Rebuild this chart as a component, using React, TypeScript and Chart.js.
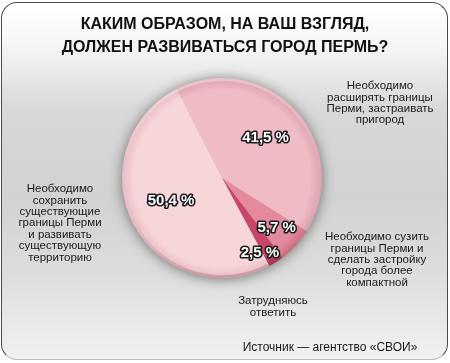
import React, { useEffect, useRef } from "react";
import { Chart, registerables } from "chart.js";

Chart.register(...registerables);

// ---- data ----
const titleLines = ["КАКИМ ОБРАЗОМ, НА ВАШ ВЗГЛЯД,", "ДОЛЖЕН РАЗВИВАТЬСЯ ГОРОД ПЕРМЬ?"];
const categories = [
  "Необходимо расширять границы Перми, застраивать пригород",
  "Необходимо сузить границы Перми и сделать застройку города более компактной",
  "Затрудняюсь ответить",
  "Необходимо сохранить существующие границы Перми и развивать существующую территорию",
];
const categoryLines = [
  ["Необходимо", "расширять границы", "Перми, застраивать", "пригород"],
  ["Необходимо сузить", "границы Перми и", "сделать застройку", "города более", "компактной"],
  ["Затрудняюсь", "ответить"],
  ["Необходимо", "сохранить", "существующие", "границы Перми", "и развивать", "существующую", "территорию"],
];
const values = [41.5, 5.7, 2.5, 50.4];
const valueLabels = ["41,5 %", "5,7 %", "2,5 %", "50,4 %"];
const sourceText = "Источник — агентство «СВОИ»";

// ---- styles / layout ----
const sliceColors = ["#efbbc5", "#e58a9c", "#c8466a", "#f7d6da"];
const sliceRim = ["#dca1ad", "#d17084", "#a93252", "#e8bbc2"];
const calloutAnchors = [
  { x: 380, y: 86 },
  { x: 377, y: 237 },
  { x: 273, y: 301 },
  { x: 60, y: 189 },
];
const valueLabelRadius = [0.59, 0.74, 0.84, 0.56];
const valueLabelAngleShift = [0, 0, 6, 3];

const FONT = "'Liberation Sans', Arial, sans-serif";

const overlayPlugin = {
  id: "overlay",
  beforeDatasetsDraw(chart: any) {
    const meta = chart.getDatasetMeta(0);
    const arc = meta.data[0];
    if (!arc) return;
    const { x, y, outerRadius } = arc.getProps(["x", "y", "outerRadius"], true);
    const ctx = chart.ctx;
    ctx.save();
    ctx.shadowColor = "rgba(0,0,0,0.55)";
    ctx.shadowBlur = 14;
    ctx.shadowOffsetY = 1;
    ctx.fillStyle = "#d9a9b2";
    ctx.beginPath();
    ctx.arc(x, y, outerRadius - 1, 0, Math.PI * 2);
    ctx.fill();
    ctx.restore();
  },
  afterDatasetsDraw(chart: any) {
    const ctx = chart.ctx;
    const meta = chart.getDatasetMeta(0);
    // title
    ctx.save();
    ctx.fillStyle = "#111";
    ctx.textAlign = "center";
    ctx.textBaseline = "middle";
    ctx.font = `bold 16px ${FONT}`;
    titleLines.forEach((t, i) => ctx.fillText(t, 225, 25 + i * 23));

    // rim highlight
    const a0 = meta.data[0];
    if (a0) {
      const { x, y, outerRadius } = a0.getProps(["x", "y", "outerRadius"], true);
      const g = ctx.createLinearGradient(x, y - outerRadius, x, y + outerRadius);
      g.addColorStop(0, "rgba(255,255,255,0.35)");
      g.addColorStop(0.5, "rgba(255,255,255,0.0)");
      g.addColorStop(1, "rgba(120,40,60,0.25)");
      ctx.strokeStyle = g;
      ctx.lineWidth = 3;
      ctx.beginPath();
      ctx.arc(x, y, outerRadius - 1.5, 0, Math.PI * 2);
      ctx.stroke();
    }

    // value labels
    ctx.font = `bold 15px ${FONT}`;
    ctx.lineJoin = "round";
    meta.data.forEach((arc: any, i: number) => {
      const p = arc.getProps(["x", "y", "startAngle", "endAngle", "outerRadius"], true);
      const mid = (p.startAngle + p.endAngle) / 2 + (valueLabelAngleShift[i] * Math.PI) / 180;
      const r = p.outerRadius * valueLabelRadius[i];
      const lx = p.x + Math.cos(mid) * r;
      const ly = p.y + Math.sin(mid) * r;
      ctx.strokeStyle = "#1a1a1a";
      ctx.lineWidth = 3.2;
      ctx.strokeText(valueLabels[i], lx, ly);
      ctx.fillStyle = "#fff";
      ctx.fillText(valueLabels[i], lx, ly);
    });

    // callouts
    ctx.font = `11.5px ${FONT}`;
    ctx.fillStyle = "#1a1a1a";
    categoryLines.forEach((lines, i) => {
      const a = calloutAnchors[i];
      lines.forEach((ln, j) => ctx.fillText(ln, a.x, a.y + j * 11.4));
    });

    // source
    ctx.font = `12px ${FONT}`;
    ctx.fillText(sourceText, 330, 348);
    ctx.restore();
  },
};

export default function App() {
  const ref = useRef<HTMLCanvasElement | null>(null);
  useEffect(() => {
    document.body.style.margin = "0";
    const canvas = ref.current;
    if (!canvas) return;
    const chart = new Chart(canvas, {
      type: "pie",
      data: {
        labels: categories,
        datasets: [
          {
            data: values,
            borderWidth: 0,
            offset: 0,
            hoverOffset: 0,
            backgroundColor: (c: any) => {
              const i = c.dataIndex;
              const ch = c.chart;
              const meta = ch.getDatasetMeta(0);
              const arc = meta.data[i];
              if (!ch.chartArea || !arc) return sliceColors[i];
              const { x, y, outerRadius } = arc.getProps(["x", "y", "outerRadius"], true);
              if (!outerRadius) return sliceColors[i];
              const g = ch.ctx.createRadialGradient(x, y, 0, x, y, outerRadius);
              g.addColorStop(0, sliceColors[i]);
              g.addColorStop(0.88, sliceColors[i]);
              g.addColorStop(1, sliceRim[i]);
              return g;
            },
          },
        ],
      },
      options: {
        responsive: false,
        animation: false,
        events: [],
        rotation: -27,
        layout: { padding: { left: 122, right: 128, top: 78, bottom: 85 } },
        plugins: {
          legend: { display: false },
          tooltip: { enabled: false },
          title: { display: false },
        },
      },
      plugins: [overlayPlugin],
    } as any);
    chart.update();
    return () => chart.destroy();
  }, []);

  return (
    <div style={{ position: "fixed", left: 0, top: 0, width: 450, height: 363, overflow: "hidden", background: "#fff" }}>
      <div
        style={{
          position: "absolute",
          left: 1,
          top: 2,
          width: 447,
          height: 358,
          boxSizing: "border-box",
          borderRadius: 16,
          border: "1.5px solid #4a4a4a",
          borderBottomColor: "#bdbdbd",
          background:
            "linear-gradient(to bottom, #ffffff 0%, #f6f6f6 12%, #d8d8d8 30%, #d2d2d2 55%, #dcdcdc 75%, #f1f1f1 100%)",
        }}
      />
      <canvas ref={ref} width={450} height={363} style={{ position: "absolute", left: 0, top: 0, width: 450, height: 363 }} />
    </div>
  );
}
